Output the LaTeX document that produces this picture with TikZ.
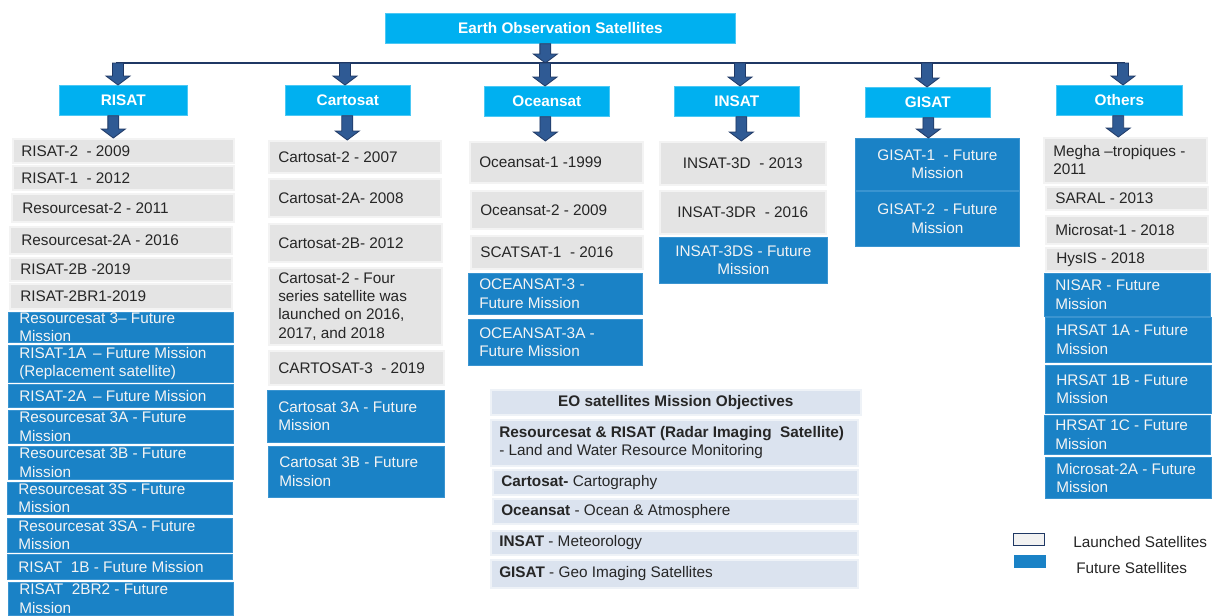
\documentclass[tikz,border=0pt]{standalone}
\usepackage{fontspec}
\setmainfont{Liberation Sans}
\usetikzlibrary{calc}
\definecolor{cyanbox}{HTML}{00B0F0}
\definecolor{launchfill}{HTML}{E4E4E4}
\definecolor{launchedge}{HTML}{F3F3F3}
\definecolor{futurefill}{HTML}{1A82C6}
\definecolor{futureedge}{HTML}{3A94D0}
\definecolor{objfill}{HTML}{DBE3EF}
\definecolor{objedge}{HTML}{EEF2F7}
\definecolor{arrowfill}{HTML}{2F5A94}
\definecolor{arrowedge}{HTML}{1F3864}
\definecolor{textdark}{HTML}{262626}
\definecolor{textlight}{HTML}{F4F4F4}

\newcommand\pxbox[6]{%
  \node[#1, anchor=north west, inner sep=0pt, minimum width={(#5-#3)*0.75pt}, minimum height={(#6-#4)*0.75pt}] (#2) at (#3,#4) {};}
\newcommand\lefttext[4]{%
  \node[#1, anchor=west, align=left, inner sep=0pt] (#2-t) at ([xshift=#3*0.75pt]#2.west) {#4};}
\newcommand\midtext[3]{%
  \node[#1, align=center, inner sep=0pt] (#2-t) at (#2.center) {#3};}
\newcommand\barrow[2]{%
  \path[blockarrow] let \p1=(#1), \p2=(#2) in
    (\x1-4.1pt,\y1) -- (\x1+4.1pt,\y1) -- (\x1+4.1pt,\y2+6.75pt) -- (\x1+9pt,\y2+6.75pt)
    -- (\x1,\y2) -- (\x1-9pt,\y2+6.75pt) -- (\x1-4.1pt,\y2+6.75pt) -- cycle;}

\begin{document}
\begin{tikzpicture}[x=0.75pt,y=-0.75pt,
  every node/.style={font=\fontsize{11.5}{13.75}\selectfont},
  launched/.style={fill=launchfill, draw=launchedge, line width=1.2pt},
  future/.style={fill=futurefill, draw=futureedge, line width=0.5pt},
  cat/.style={fill=cyanbox, draw=cyanbox!70!white, line width=0.5pt},
  obj/.style={fill=objfill, draw=objedge, line width=1.2pt},
  dtext/.style={text=textdark},
  wtext/.style={text=textlight},
  btext/.style={text=white, font=\fontsize{11.5}{13.75}\selectfont\bfseries},
  blockarrow/.style={fill=arrowfill, draw=arrowedge, line width=0.6pt},
  bus/.style={draw=arrowedge, line width=2.2pt},
  legendlaunched/.style={fill=launchfill!50!white, draw=arrowedge, line width=0.9pt},
  legendfuture/.style={fill=futurefill}
]
\useasboundingbox (0,0) rectangle (1224,615);
\fill[white] (0,0) rectangle (1224,615);

% ---- top and category boxes
\pxbox{cat}{eo}{385}{13}{735}{43}
\midtext{btext}{eo}{Earth Observation Satellites}
\pxbox{cat}{risat}{59}{85}{187}{115}
\midtext{btext}{risat}{RISAT}
\pxbox{cat}{carto}{285}{85}{410}{115}
\midtext{btext}{carto}{Cartosat}
\pxbox{cat}{ocean}{484}{86}{609}{116}
\midtext{btext}{ocean}{Oceansat}
\pxbox{cat}{insat}{674}{86}{799}{116}
\midtext{btext}{insat}{INSAT}
\pxbox{cat}{gisat}{865}{87}{990}{117}
\midtext{btext}{gisat}{GISAT}
\pxbox{cat}{others}{1056}{85}{1182}{115}
\midtext{btext}{others}{Others}

% ---- bus
\coordinate (bus-top) at (545,63);
\coordinate (bus-risat) at (118,63);
\coordinate (bus-carto) at (345,63);
\coordinate (bus-ocean) at (545,63);
\coordinate (bus-insat) at (740,63);
\coordinate (bus-gisat) at (927,63);
\coordinate (bus-others) at (1123,63);
\draw[bus] ([xshift=-1.5pt]bus-risat) -- ([xshift=1.5pt]bus-others);

% ---- RISAT column
\pxbox{launched}{r1}{12}{138}{233}{162}
\lefttext{dtext}{r1}{9}{RISAT-2\ \ - 2009}
\pxbox{launched}{r2}{12}{165}{233}{189}
\lefttext{dtext}{r2}{9}{RISAT-1\ \ - 2012}
\pxbox{launched}{r3}{11}{193}{233}{221}
\lefttext{dtext}{r3}{11}{Resourcesat-2 - 2011}
\pxbox{launched}{r4}{9}{226}{231}{253}
\lefttext{dtext}{r4}{12}{Resourcesat-2A - 2016}
\pxbox{launched}{r5}{9}{257}{231}{280}
\lefttext{dtext}{r5}{11}{RISAT-2B -2019}
\pxbox{launched}{r6}{9}{283}{231}{308}
\lefttext{dtext}{r6}{11}{RISAT-2BR1-2019}
\pxbox{future}{r7}{8}{312}{233}{342}
\lefttext{wtext}{r7}{11}{Resourcesat 3-- Future\\Mission}
\pxbox{future}{r8}{8}{345}{233}{382}
\lefttext{wtext}{r8}{11}{RISAT-1A \,-- Future Mission\\(Replacement satellite)}
\pxbox{future}{r9}{8}{384}{233}{407}
\lefttext{wtext}{r9}{11}{RISAT-2A \,-- Future Mission}
\pxbox{future}{r10}{8}{410}{233}{443}
\lefttext{wtext}{r10}{11}{Resourcesat 3A - Future\\Mission}
\pxbox{future}{r11}{8}{446}{233}{479}
\lefttext{wtext}{r11}{11}{Resourcesat 3B - Future\\Mission}
\pxbox{future}{r12}{7}{482}{232}{514}
\lefttext{wtext}{r12}{11}{Resourcesat 3S - Future\\Mission}
\pxbox{future}{r13}{7}{518}{232}{552}
\lefttext{wtext}{r13}{11}{Resourcesat 3SA - Future\\Mission}
\pxbox{future}{r14}{7}{554}{232}{579}
\lefttext{wtext}{r14}{11}{RISAT\ \ 1B - Future Mission}
\pxbox{future}{r15}{8}{582}{233}{615}
\lefttext{wtext}{r15}{11}{RISAT\ \ 2BR2 - Future\\Mission}

% ---- Cartosat column
\pxbox{launched}{c1}{268}{140}{440}{172}
\lefttext{dtext}{c1}{10}{Cartosat-2 - 2007}
\pxbox{launched}{c2}{268}{178}{440}{216}
\lefttext{dtext}{c2}{10}{Cartosat-2A- 2008}
\pxbox{launched}{c3}{268}{223}{441}{261}
\lefttext{dtext}{c3}{10}{Cartosat-2B- 2012}
\pxbox{launched}{c4}{268}{267}{441}{344}
\lefttext{dtext}{c4}{10}{Cartosat-2 - Four\\series satellite was\\launched on 2016,\\2017, and 2018}
\pxbox{launched}{c5}{268}{350}{443}{384}
\lefttext{dtext}{c5}{10}{CARTOSAT-3\ \ - 2019}
\pxbox{future}{c6}{267}{390}{444}{442}
\lefttext{wtext}{c6}{11}{Cartosat 3A - Future\\Mission}
\pxbox{future}{c7}{268}{446}{444}{497}
\lefttext{wtext}{c7}{11}{Cartosat 3B - Future\\Mission}

% ---- Oceansat column
\pxbox{launched}{o1}{469}{141}{642}{182}
\lefttext{dtext}{o1}{10}{Oceansat-1 -1999}
\pxbox{launched}{o2}{470}{190}{642}{228}
\lefttext{dtext}{o2}{10}{Oceansat-2 - 2009}
\pxbox{launched}{o3}{470}{235}{642}{268}
\lefttext{dtext}{o3}{10}{SCATSAT-1\ \ - 2016}
\pxbox{future}{o4}{468}{273}{642}{314}
\lefttext{wtext}{o4}{11}{OCEANSAT-3 -\\Future Mission}
\pxbox{future}{o5}{468}{319}{642}{365}
\lefttext{wtext}{o5}{11}{OCEANSAT-3A -\\Future Mission}

% ---- INSAT column
\pxbox{launched}{i1}{659}{141}{825}{184}
\midtext{dtext}{i1}{INSAT-3D\ \ - 2013}
\pxbox{launched}{i2}{659}{190}{825}{233}
\midtext{dtext}{i2}{INSAT-3DR\ \ - 2016}
\pxbox{future}{i3}{659}{237}{827}{283}
\midtext{wtext}{i3}{INSAT-3DS - Future\\Mission}

% ---- GISAT column
\pxbox{future}{g1}{855}{138}{1019}{190}
\midtext{wtext}{g1}{GISAT-1\ \ - Future\\Mission}
\pxbox{future}{g2}{855}{191}{1019}{246}
\midtext{wtext}{g2}{GISAT-2\ \ - Future\\Mission}

% ---- Others column
\pxbox{launched}{h1}{1043}{137}{1206}{182}
\lefttext{dtext}{h1}{10}{Megha --tropiques -\\2011}
\pxbox{launched}{h2}{1045}{186}{1207}{209}
\lefttext{dtext}{h2}{10}{SARAL - 2013}
\pxbox{launched}{h3}{1045}{215}{1207}{243}
\lefttext{dtext}{h3}{10}{Microsat-1 - 2018}
\pxbox{launched}{h4}{1045}{247}{1207}{270}
\lefttext{dtext}{h4}{11}{HysIS - 2018}
\pxbox{future}{h5}{1044}{273}{1210}{316}
\lefttext{wtext}{h5}{11}{NISAR - Future\\Mission}
\pxbox{future}{h6}{1045}{317}{1211}{362}
\lefttext{wtext}{h6}{11}{HRSAT 1A - Future\\Mission}
\pxbox{future}{h7}{1045}{365}{1211}{413}
\lefttext{wtext}{h7}{11}{HRSAT 1B - Future\\Mission}
\pxbox{future}{h8}{1044}{415}{1210}{454}
\lefttext{wtext}{h8}{11}{HRSAT 1C - Future\\Mission}
\pxbox{future}{h9}{1045}{457}{1211}{498}
\lefttext{wtext}{h9}{11}{Microsat-2A - Future\\Mission}

% ---- Mission objectives
\pxbox{obj}{ob0}{490}{389}{860}{414}
\midtext{dtext}{ob0}{\bfseries EO satellites Mission Objectives}
\pxbox{obj}{ob1}{490}{419}{857}{465}
\lefttext{dtext}{ob1}{9}{\textbf{Resourcesat \& RISAT (Radar Imaging\ \ Satellite)}\\- Land and Water Resource Monitoring}
\pxbox{obj}{ob2}{492}{469}{857}{494}
\lefttext{dtext}{ob2}{9}{\textbf{Cartosat-} Cartography}
\pxbox{obj}{ob3}{492}{498}{857}{523}
\lefttext{dtext}{ob3}{9}{\textbf{Oceansat} - Ocean \& Atmosphere}
\pxbox{obj}{ob4}{490}{530}{857}{554}
\lefttext{dtext}{ob4}{9}{\textbf{INSAT} - Meteorology}
\pxbox{obj}{ob5}{490}{559}{857}{587}
\lefttext{dtext}{ob5}{9}{\textbf{GISAT} - Geo Imaging Satellites}

% ---- Legend
\pxbox{legendlaunched}{lg1}{1013}{533}{1044}{545}
\node[dtext, anchor=west, inner sep=0pt] (lg1-t) at (1073,542) {Launched Satellites};
\pxbox{legendfuture}{lg2}{1014}{555}{1046}{568}
\node[dtext, anchor=west, inner sep=0pt] (lg2-t) at (1076,568) {Future Satellites};

% ---- block arrows
\barrow{[xshift=-11.25pt]eo.south}{bus-top}
\barrow{bus-risat}{risat.north}
\barrow{bus-carto}{carto.north}
\barrow{bus-ocean}{ocean.north}
\barrow{bus-insat}{insat.north}
\barrow{bus-gisat}{gisat.north}
\barrow{bus-others}{others.north}
\barrow{[xshift=-7.5pt]risat.south}{r1.north}
\barrow{[xshift=-0.4pt]carto.south}{c1.north}
\barrow{[xshift=-1.1pt]ocean.south}{o1.north}
\barrow{[xshift=3.4pt]insat.south}{i1.north}
\barrow{[xshift=0.4pt]gisat.south}{g1.north}
\barrow{[xshift=-0.8pt]others.south}{h1.north}
\end{tikzpicture}
\end{document}
